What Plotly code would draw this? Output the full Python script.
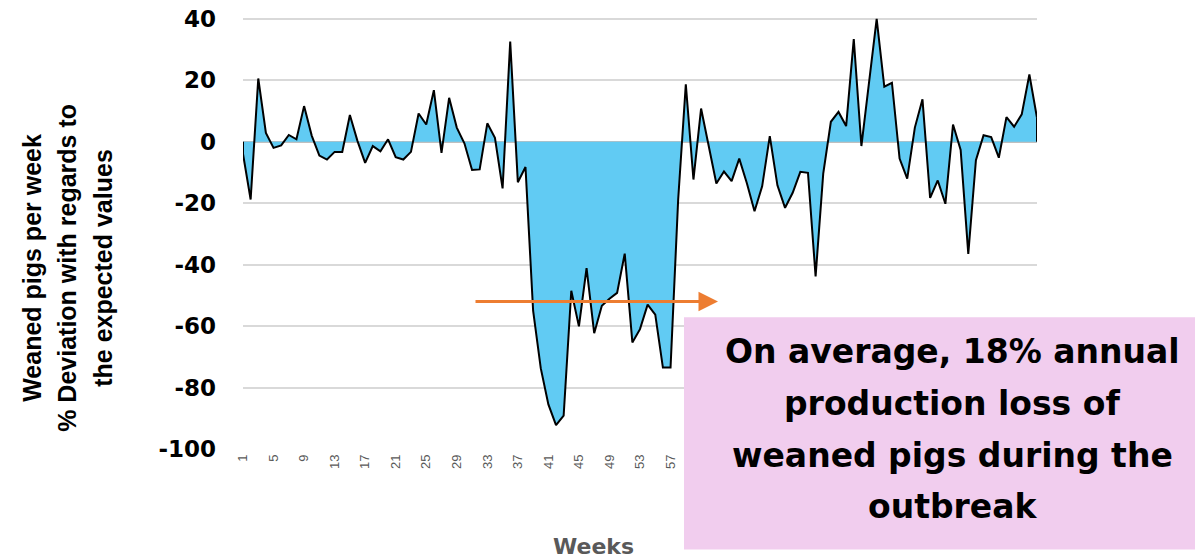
import plotly.graph_objects as go

weeks = list(range(1, 106))
deviation = [
    -4, -18.8, 20.6, 2.9, -2, -1.2, 2.2, 0.8, 11.6, 2,
    -4.5, -5.8, -3.3, -3.3, 8.7, 0.2, -6.9, -1.4, -3.1, 0.8,
    -5, -5.8, -3.3, 9.2, 5.6, 16.8, -3.6, 14.3, 4.6, -0.5,
    -9.2, -9, 6, 1.3, -15.2, 32.6, -13.2, -8.2, -55, -73.7,
    -85.5, -92.2, -89.1, -48.5, -60.1, -41.1, -62.3, -53.4, -51.1, -49.2,
    -36.4, -65.3, -61, -53, -56.3, -73.5, -73.5, -18.8, 18.7, -12.3,
    10.8, -1, -13.6, -9.7, -12.8, -5.5, -13.5, -22.6, -14.5, 1.8,
    -14.2, -21.5, -16.6, -9.8, -10.1, -43.8, -10.4, 6.5, 9.7, 5.1,
    33.4, -1.4, 19.8, 40, 17.9, 19.2, -5.5, -12, 4.6, 13.8,
    -18.3, -12.6, -20.2, 5.6, -2.7, -36.5, -6, 2.1, 1.5, -5.2,
    8, 4.9, 8.9, 21.9, 7.8,
]
y_ticks = [-100, -80, -60, -40, -20, 0, 20, 40]
y_tick_labels = ["-100", "-80", "-60", "-40", "-20", "0", "20", "40"]
y_title_lines = ["Weaned pigs per week", "% Deviation with regards to", "the expected values"]
box_lines = ["On average, 18% annual", "production loss of", "weaned pigs during the", "outbreak"]

# page body has an 8px margin: shift the figure so it lands where the reference is
OFF = 8
W, H = 1203 - OFF, 559 - OFF
Y_MIN, Y_MAX = -100, 40.6
L, R, B = 243, 1037, 449            # plot area in reference pixels
PX_PER_UNIT = (449 - 19.3) / 140.0
T = B - (Y_MAX - Y_MIN) * PX_PER_UNIT


def px(x):
    return (x - L) / (R - L)


def py(y):
    return (B - y) / (B - T)


fig = go.Figure()
fig.add_trace(go.Scatter(
    x=weeks, y=deviation, mode="lines", fill="tozeroy",
    fillcolor="#61CBF3", line=dict(color="black", width=2),
    hoverinfo="skip", showlegend=False,
))
# closing edges of the area outline
fig.add_trace(go.Scatter(
    x=[weeks[0], weeks[0], None, weeks[-1], weeks[-1]],
    y=[0, deviation[0], None, deviation[-1], 0],
    mode="lines", line=dict(color="black", width=2),
    hoverinfo="skip", showlegend=False,
))

fig.update_layout(
    width=W, height=H,
    margin=dict(l=L - OFF, r=(1203 - R), t=T - OFF, b=(559 - B)),
    paper_bgcolor="white", plot_bgcolor="white",
    showlegend=False,
    xaxis=dict(
        range=[1, 105], tickmode="linear", tick0=1, dtick=4,
        tickangle=-90, showgrid=False, zeroline=False, showline=False,
        ticks="", tickfont=dict(family="Liberation Sans", size=13, color="#595959"),
        ticklabelstandoff=2, automargin=False, ticklabeloverflow="allow",
    ),
    yaxis=dict(
        range=[Y_MIN, Y_MAX], tickvals=y_ticks, ticktext=y_tick_labels,
        showgrid=True, gridcolor="#D9D9D9", gridwidth=1.5,
        zeroline=True, zerolinecolor="#BFBFBF", zerolinewidth=2,
        showline=False, ticks="", automargin=False, ticklabeloverflow="allow",
        tickfont=dict(family="DejaVu Sans", size=23, color="black", weight="bold"),
        ticklabelstandoff=26,
    ),
)

fig.add_shape(
    type="rect", xref="paper", yref="paper",
    x0=px(684), x1=px(1210), y0=py(549.3), y1=py(317.3),
    fillcolor="#F1CDEE", line=dict(width=0), layer="above",
)

line_y = [351.7, 403.3, 455, 506.7]
for txt, yy in zip(box_lines, line_y):
    fig.add_annotation(
        x=px(952), y=py(yy), xref="paper", yref="paper",
        text=txt, showarrow=False, xanchor="center", yanchor="middle",
        font=dict(family="DejaVu Sans", size=33, color="black", weight="bold"),
    )

fig.add_annotation(
    x=px(718), y=py(301.7), xref="paper", yref="paper",
    ax=-244, ay=0, text="", showarrow=True,
    arrowhead=2, arrowsize=1.3, arrowwidth=3, arrowcolor="#ED7D31", standoff=0,
)

for txt, xx in zip(y_title_lines, [32, 67, 103]):
    fig.add_annotation(
        x=px(xx), y=py(268), xref="paper", yref="paper",
        text=txt, showarrow=False, textangle=-90,
        xanchor="center", yanchor="middle",
        font=dict(family="Liberation Sans", size=25, color="black", weight="bold"),
    )

fig.add_annotation(
    x=px(593), y=py(546), xref="paper", yref="paper",
    text="Weeks", showarrow=False, xanchor="center", yanchor="middle",
    font=dict(family="DejaVu Sans", size=22, color="#595959", weight="bold"),
)

fig.write_html("out.html")
